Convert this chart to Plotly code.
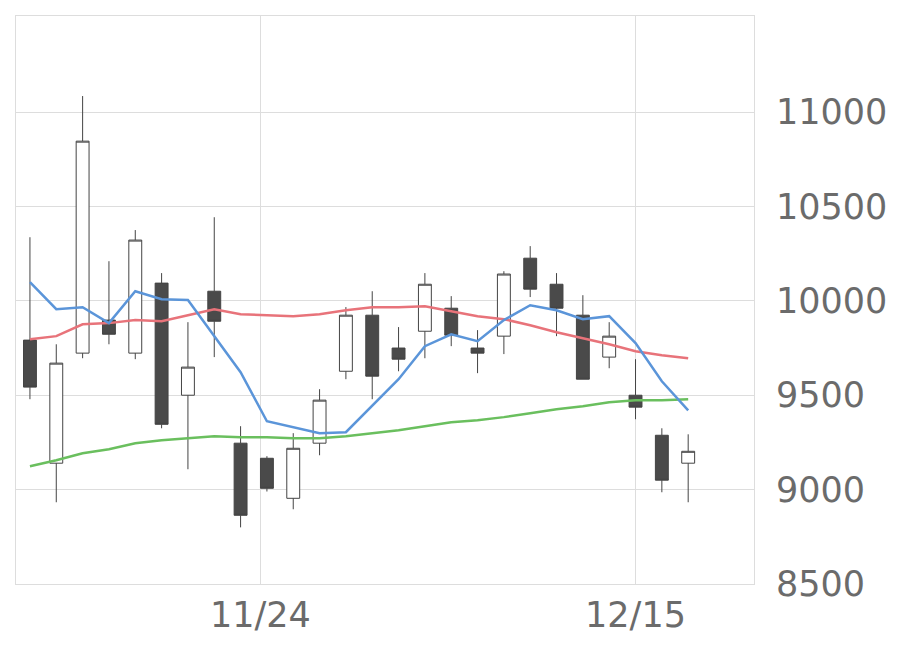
import plotly.graph_objects as go

idx = list(range(26))
opens = [9792, 9140, 9723, 9898, 9723, 10094, 9500, 10051, 9246, 9166, 8954, 9246, 9627,
         9924, 9750, 9839, 9961, 9750, 9813, 10226, 10088, 9924, 9702, 9500, 9288, 9140]
closes = [9543, 9670, 10846, 9823, 10322, 9346, 9649, 9892, 8864, 9007, 9219, 9474, 9924,
          9601, 9691, 10088, 9818, 9723, 10142, 10062, 9961, 9585, 9813, 9437, 9050, 9203]
highs = [10337, 9770, 11085, 10210, 10375, 10147, 9887, 10443, 9336, 9177, 9299, 9532, 9967,
         10051, 9861, 10147, 10025, 9845, 10157, 10290, 10147, 10030, 9887, 9691, 9325, 9293]
lows = [9479, 8933, 9696, 9770, 9691, 9325, 9108, 9702, 8800, 8990, 8896, 9182, 9585,
        9479, 9627, 9696, 9760, 9617, 9718, 10020, 9813, 9585, 9643, 9373, 8986, 8933]
ma_short = [10099, 9956, 9966, 9882, 10051, 10009, 10004, 9813, 9622, 9362, 9330, 9299, 9304,
            9447, 9585, 9760, 9823, 9786, 9898, 9977, 9950, 9903, 9919, 9776, 9574, 9420]
ma_mid = [9797, 9813, 9876, 9882, 9898, 9892, 9924, 9956, 9929, 9924, 9919, 9929, 9950,
          9966, 9966, 9971, 9945, 9919, 9903, 9871, 9834, 9802, 9770, 9733, 9712, 9696]
ma_long = [9124, 9156, 9193, 9214, 9246, 9262, 9272, 9283, 9278, 9278, 9272, 9272, 9283,
           9299, 9315, 9336, 9357, 9368, 9384, 9405, 9426, 9442, 9463, 9474, 9474, 9479]
tick_pos = [8.75, 23]
tick_text = ["11/24", "12/15"]
y_ticks = [8500, 9000, 9500, 10000, 10500, 11000]

fig = go.Figure()
fig.add_trace(go.Candlestick(
    x=idx, open=opens, high=highs, low=lows, close=closes,
    increasing=dict(line=dict(color="#444444", width=1), fillcolor="white"),
    decreasing=dict(line=dict(color="#444444", width=1), fillcolor="#4a4a4a"),
    whiskerwidth=0, showlegend=False,
))
for vals, col in [(ma_long, "#6abf5e"), (ma_mid, "#e8737a"), (ma_short, "#5b95d9")]:
    fig.add_trace(go.Scatter(x=idx, y=vals, mode="lines", line=dict(color=col, width=2.5),
                             showlegend=False))

fig.update_layout(
    width=920, height=669, paper_bgcolor="white", plot_bgcolor="white",
    margin=dict(l=8, r=174, t=8, b=93),
    font=dict(family="DejaVu Sans", size=35, color="#6b6b6b"),
)
fig.update_xaxes(range=[-0.53, 27.5], tickvals=tick_pos, ticktext=tick_text,
                 showgrid=True, gridcolor="#dddddd", rangeslider_visible=False,
                 showline=True, linecolor="#dddddd", mirror=True, ticks="", zeroline=False)
fig.update_yaxes(range=[8500, 11509], side="right", tickvals=y_ticks, tickformat="d",
                 showgrid=True, gridcolor="#dddddd", showline=True, linecolor="#dddddd",
                 mirror=True, zeroline=False, ticks="outside", ticklen=14, tickcolor="white")
fig.write_html("out.html")
